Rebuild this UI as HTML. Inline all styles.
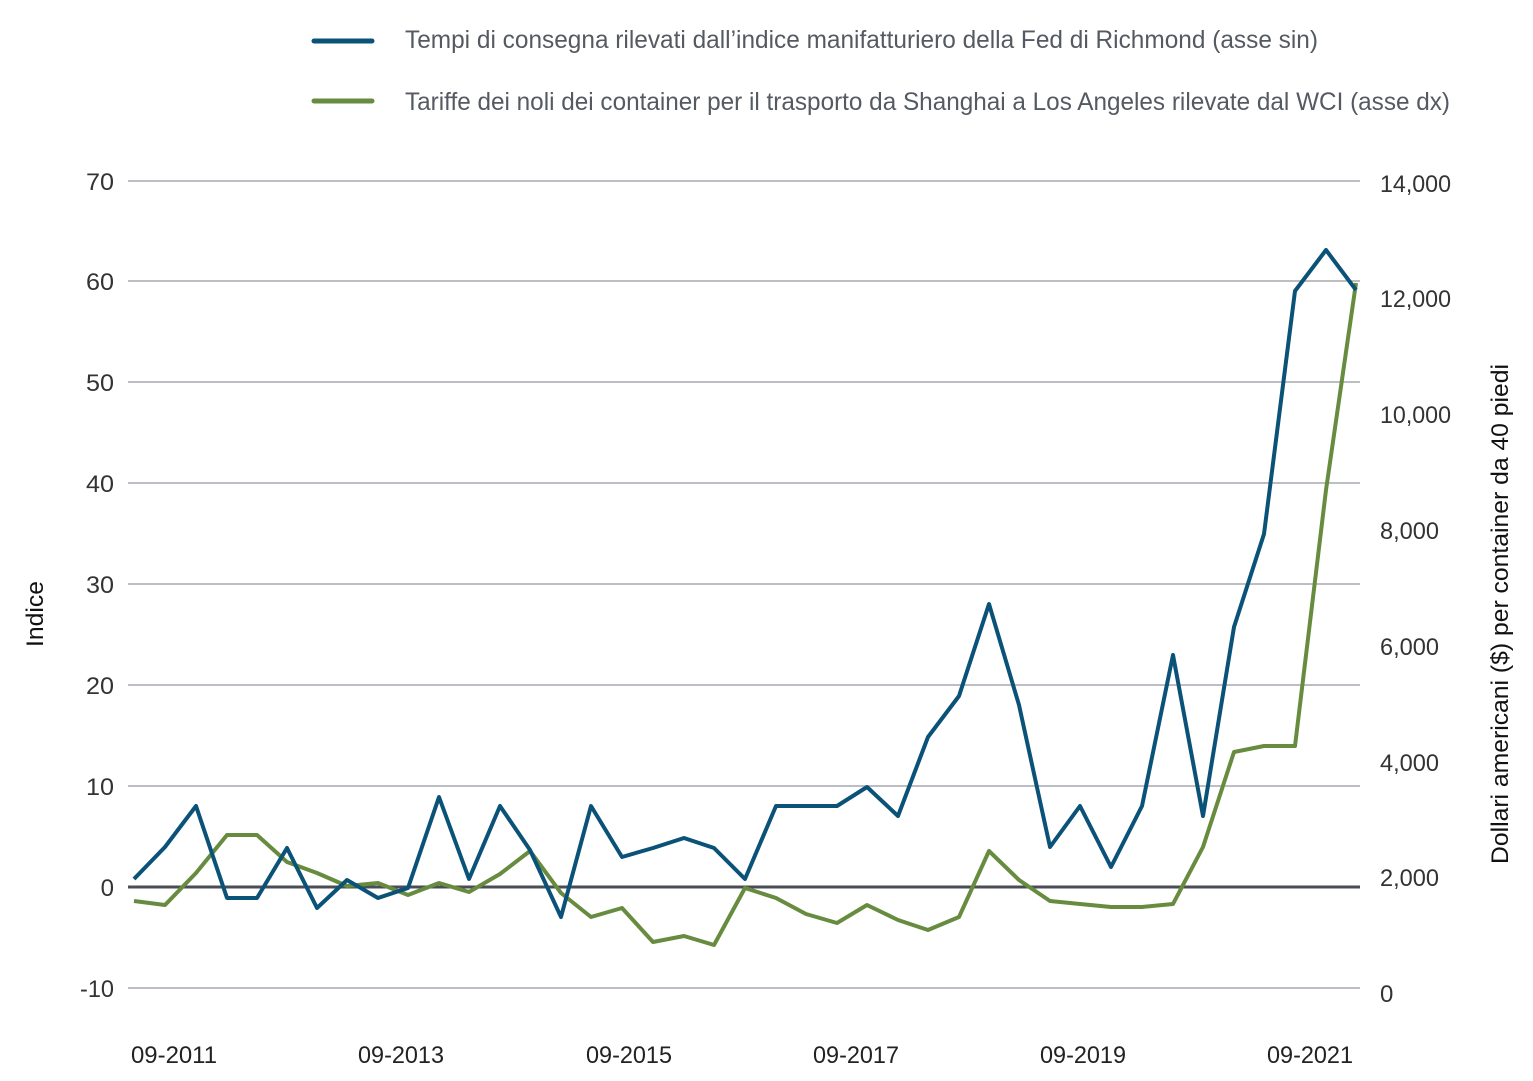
<!DOCTYPE html>
<html><head><meta charset="utf-8"><style>
html,body{margin:0;padding:0;background:#fff;}
svg{display:block;font-family:"Liberation Sans Narrow","Liberation Sans",sans-serif;}
</style></head><body>
<svg width="1533" height="1081" viewBox="0 0 1533 1081" xmlns="http://www.w3.org/2000/svg">
<g stroke="#a7a9b0" stroke-width="1.5">
<line x1="128" x2="1360" y1="181" y2="181"/>
<line x1="128" x2="1360" y1="281" y2="281"/>
<line x1="128" x2="1360" y1="382" y2="382"/>
<line x1="128" x2="1360" y1="483" y2="483"/>
<line x1="128" x2="1360" y1="584" y2="584"/>
<line x1="128" x2="1360" y1="685" y2="685"/>
<line x1="128" x2="1360" y1="786" y2="786"/>
<line x1="128" x2="1360" y1="988" y2="988"/>
</g>
<line x1="128" x2="1360" y1="887" y2="887" stroke="#4a4d55" stroke-width="3"/>
<g fill="#333" font-size="24" text-anchor="end">
<text x="114" y="190" textLength="28" lengthAdjust="spacingAndGlyphs">70</text>
<text x="114" y="290" textLength="28" lengthAdjust="spacingAndGlyphs">60</text>
<text x="114" y="391" textLength="28" lengthAdjust="spacingAndGlyphs">50</text>
<text x="114" y="492" textLength="28" lengthAdjust="spacingAndGlyphs">40</text>
<text x="114" y="593" textLength="28" lengthAdjust="spacingAndGlyphs">30</text>
<text x="114" y="694" textLength="28" lengthAdjust="spacingAndGlyphs">20</text>
<text x="114" y="795" textLength="28" lengthAdjust="spacingAndGlyphs">10</text>
<text x="114" y="896">0</text>
<text x="114" y="997" textLength="34" lengthAdjust="spacingAndGlyphs">-10</text>
</g>
<g fill="#333" font-size="24" text-anchor="start">
<text x="1380" y="192" textLength="71" lengthAdjust="spacingAndGlyphs">14,000</text>
<text x="1380" y="307" textLength="71" lengthAdjust="spacingAndGlyphs">12,000</text>
<text x="1380" y="423" textLength="71" lengthAdjust="spacingAndGlyphs">10,000</text>
<text x="1380" y="539" textLength="59" lengthAdjust="spacingAndGlyphs">8,000</text>
<text x="1380" y="655" textLength="59" lengthAdjust="spacingAndGlyphs">6,000</text>
<text x="1380" y="771" textLength="59" lengthAdjust="spacingAndGlyphs">4,000</text>
<text x="1380" y="886" textLength="59" lengthAdjust="spacingAndGlyphs">2,000</text>
<text x="1380" y="1002">0</text>
</g>
<g fill="#222" font-size="24" text-anchor="middle">
<text x="174" y="1063" textLength="86" lengthAdjust="spacingAndGlyphs">09-2011</text>
<text x="401" y="1063" textLength="86" lengthAdjust="spacingAndGlyphs">09-2013</text>
<text x="629" y="1063" textLength="86" lengthAdjust="spacingAndGlyphs">09-2015</text>
<text x="856" y="1063" textLength="86" lengthAdjust="spacingAndGlyphs">09-2017</text>
<text x="1083" y="1063" textLength="86" lengthAdjust="spacingAndGlyphs">09-2019</text>
<text x="1310" y="1063" textLength="86" lengthAdjust="spacingAndGlyphs">09-2021</text>
</g>
<text transform="translate(43,614) rotate(-90)" text-anchor="middle" font-size="24" fill="#111" textLength="66" lengthAdjust="spacingAndGlyphs">Indice</text>
<text transform="translate(1508,614) rotate(-90)" text-anchor="middle" font-size="24" fill="#111" textLength="500" lengthAdjust="spacingAndGlyphs">Dollari americani ($) per container da 40 piedi</text>
<line x1="314" x2="372" y1="41" y2="41" stroke="#0b5278" stroke-width="5" stroke-linecap="round"/>
<line x1="314" x2="372" y1="101" y2="101" stroke="#678b3f" stroke-width="5" stroke-linecap="round"/>
<text x="405" y="48" font-size="25" fill="#555a62" textLength="913" lengthAdjust="spacingAndGlyphs">Tempi di consegna rilevati dall’indice manifatturiero della Fed di Richmond (asse sin)</text>
<text x="405" y="110" font-size="25" fill="#555a62" textLength="1045" lengthAdjust="spacingAndGlyphs">Tariffe dei noli dei container per il trasporto da Shanghai a Los Angeles rilevate dal WCI (asse dx)</text>
<polyline fill="none" stroke="#678b3f" stroke-width="4" stroke-linejoin="round" points="134,901 165,905 196,873 227,835 257,835 287,862 317,873 347,886 378,883 408,895 439,883 469,892 500,874 530,851 561,893 591,917 622,908 653,942 684,936 714,945 745,888 776,898 806,914 837,923 867,905 898,920 928,930 959,917 989,851 1019,880 1050,901 1080,904 1111,907 1142,907 1173,904 1203,847 1234,752 1264,746 1295,746 1326,490 1356,283"/>
<polyline fill="none" stroke="#0b5278" stroke-width="4" stroke-linejoin="round" points="134,879 165,847 196,806 227,898 257,898 287,848 317,908 347,880 378,898 408,888 439,797 469,879 500,806 530,850 561,917 591,806 622,857 653,848 684,838 714,848 745,879 776,806 806,806 837,806 867,787 898,816 928,737 959,696 989,604 1019,705 1050,847 1080,806 1111,867 1142,806 1173,655 1203,816 1234,627 1264,534 1295,291 1326,250 1356,290"/>
</svg>
</body></html>
